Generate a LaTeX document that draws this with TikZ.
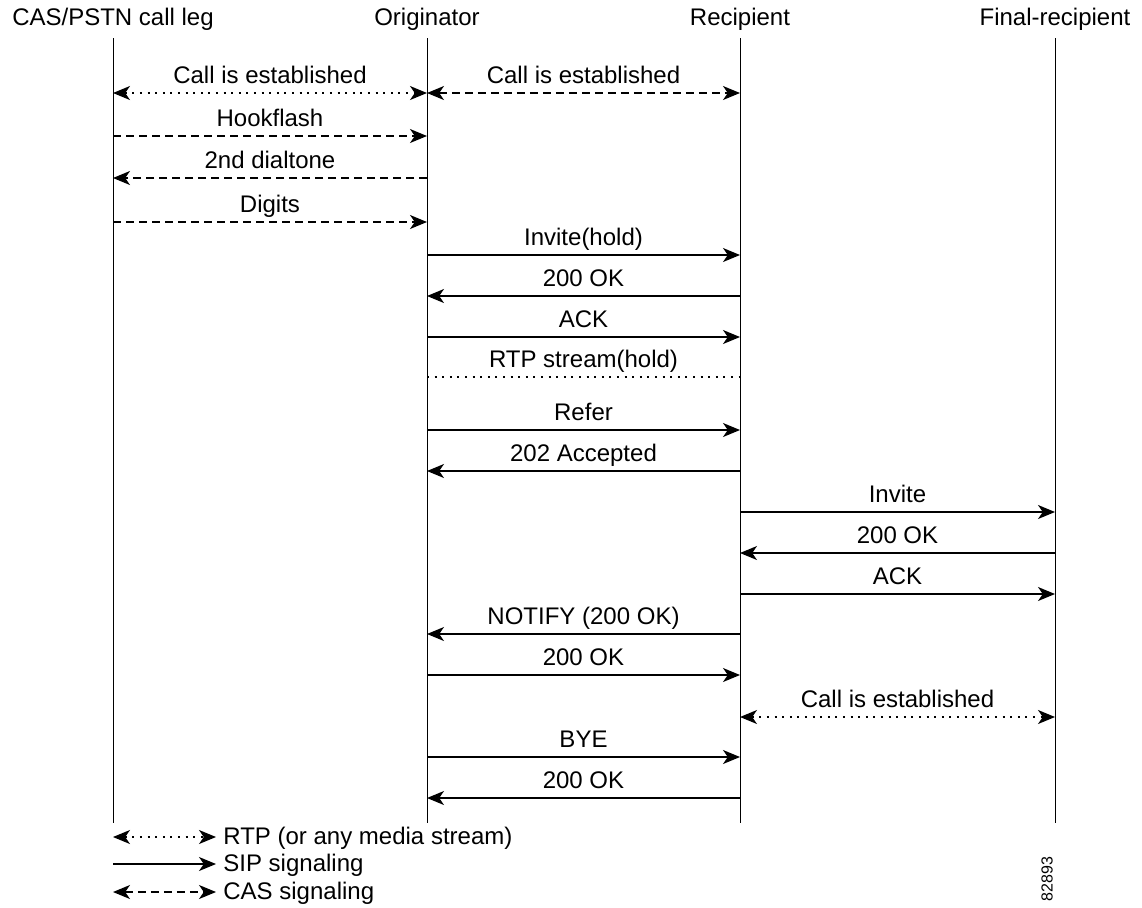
\documentclass[tikz,border=0pt]{standalone}
\usepackage{fontspec}
\setmainfont{Liberation Sans}
\usetikzlibrary{arrows.meta}
\tikzset{
  arr/.tip={Stealth[length=8.5pt,width=7pt,inset=2.4pt]},
  base line/.style={line width=0.6pt},
  sip/.style={base line,-arr},
  siplegend/.style={base line,-arr},
  rtp/.style={base line,arr-arr,dash pattern=on 1pt off 2.8pt},
  rtpplain/.style={base line,dash pattern=on 1pt off 2.8pt},
  cas/.style={base line,-arr,dash pattern=on 4pt off 2.5pt},
  casboth/.style={base line,arr-arr,dash pattern=on 4pt off 2.5pt},
  lifeline/.style={line width=0.5pt},
  hdr/.style={font=\fontsize{12}{14}\selectfont,anchor=base,inner sep=0pt},
  lbl/.style={font=\fontsize{12}{14}\selectfont,anchor=base,inner sep=0pt},
  leg/.style={font=\fontsize{12}{14}\selectfont,anchor=base west,inner sep=0pt},
}
\newcommand\msg[5]{\draw[#1] (#2 |- 0,#4) -- (#3 |- 0,#4) node[lbl,midway,yshift=5pt] {#5};}
\begin{document}
\begin{tikzpicture}[x=0.5pt,y=-0.5pt]
\useasboundingbox (0,0) rectangle (1142,907);
% headers
\node[hdr] (hcas) at (113,25) {CAS/PSTN call leg};
\node[hdr] (horig) at (427,25) {Originator};
\node[hdr] (hrec) at (740,25) {Recipient};
\node[hdr] (hfin) at (1055,25) {Final-recipient};
% lifelines
\coordinate (cas) at (113,38);   \coordinate (casB) at (113,823);
\coordinate (orig) at (427,38);  \coordinate (origB) at (427,823);
\coordinate (rec) at (740,38);   \coordinate (recB) at (740,823);
\coordinate (fin) at (1055,38);  \coordinate (finB) at (1055,823);
\draw[lifeline] (cas) -- (casB);
\draw[lifeline] (orig) -- (origB);
\draw[lifeline] (rec) -- (recB);
\draw[lifeline] (fin) -- (finB);
% messages
\msg{rtp}{cas}{orig}{93}{Call is established}
\msg{casboth}{orig}{rec}{93}{Call is established}
\msg{cas}{cas}{orig}{136}{Hookflash}
\msg{cas}{orig}{cas}{178}{2nd dialtone}
\msg{cas}{cas}{orig}{222}{Digits}
\msg{sip}{orig}{rec}{255}{Invite(hold)}
\msg{sip}{rec}{orig}{296}{200 OK}
\msg{sip}{orig}{rec}{337}{ACK}
\msg{rtpplain}{orig}{rec}{377}{RTP stream(hold)}
\msg{sip}{orig}{rec}{430}{Refer}
\msg{sip}{rec}{orig}{471}{202 Accepted}
\msg{sip}{rec}{fin}{512}{Invite}
\msg{sip}{fin}{rec}{553}{200 OK}
\msg{sip}{rec}{fin}{594}{ACK}
\msg{sip}{rec}{orig}{634}{NOTIFY (200 OK)}
\msg{sip}{orig}{rec}{675}{200 OK}
\msg{rtp}{rec}{fin}{717}{Call is established}
\msg{sip}{orig}{rec}{757}{BYE}
\msg{sip}{rec}{orig}{798}{200 OK}
% legend
\coordinate (l1a) at (113,837); \coordinate (l1b) at (216,837);
\coordinate (l2a) at (113,864); \coordinate (l2b) at (216,864);
\coordinate (l3a) at (113,892); \coordinate (l3b) at (216,892);
\draw[rtp] (l1a) -- (l1b);
\draw[siplegend] (l2a) -- (l2b);
\draw[casboth] (l3a) -- (l3b);
\node[leg] (t1) at (223,844) {RTP (or any media stream)};
\node[leg] (t2) at (223,871) {SIP signaling};
\node[leg] (t3) at (223,899) {CAS signaling};
\node[rotate=90,font=\fontsize{8}{9}\selectfont,inner sep=0pt] (num) at (1047,879) {82893};
\end{tikzpicture}
\end{document}
